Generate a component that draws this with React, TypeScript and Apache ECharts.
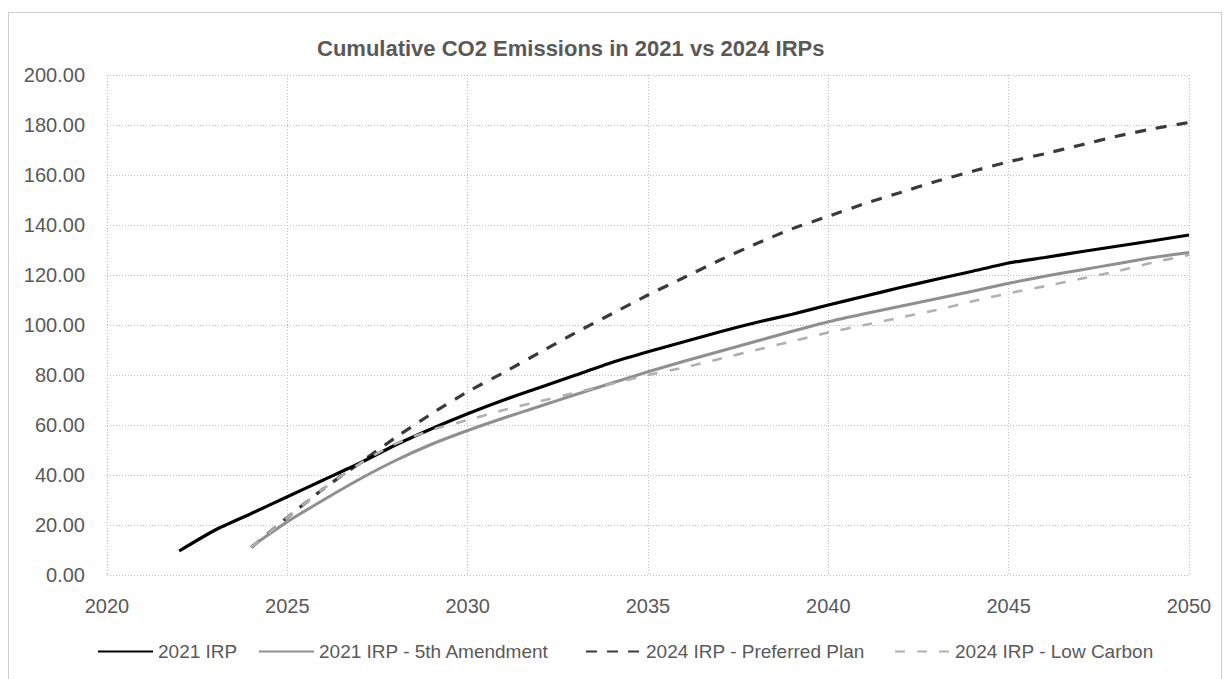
import React, { useEffect, useRef } from "react";
import * as echarts from "echarts";

// Cumulative CO2 emissions by plan (million tons), one value per year
const irp2021Years = [2022, 2023, 2024, 2025, 2026, 2027, 2028, 2029, 2030, 2031, 2032, 2033, 2034, 2035, 2036, 2037, 2038, 2039, 2040, 2041, 2042, 2043, 2044, 2045, 2046, 2047, 2048, 2049, 2050];
const irp2021 = [9.6, 18, 24.6, 31.3, 38, 44.7, 52, 58.5, 64.5, 70, 75, 80, 85, 89.3, 93.3, 97.3, 101, 104.3, 108, 111.5, 115, 118.3, 121.5, 124.8, 127, 129.3, 131.5, 133.7, 136];

const laterYears = [2024, 2025, 2026, 2027, 2028, 2029, 2030, 2031, 2032, 2033, 2034, 2035, 2036, 2037, 2038, 2039, 2040, 2041, 2042, 2043, 2044, 2045, 2046, 2047, 2048, 2049, 2050];
const irp2021Amend5 = [11.3, 21.3, 30, 38.3, 45.8, 52.3, 57.8, 62.8, 67.5, 72.2, 76.8, 81.3, 85.5, 89.5, 93.5, 97.5, 101.3, 104.5, 107.5, 110.5, 113.5, 116.7, 119.5, 122, 124.5, 127, 129];
const irp2024Preferred = [11, 23, 34.5, 44.7, 55, 64.5, 73.3, 81, 89, 97, 104.5, 112, 119, 126, 132.5, 138.5, 143.5, 148.5, 153, 157.5, 161.5, 165.3, 168.5, 172, 175.5, 178.5, 181];
const irp2024LowCarbon = [11, 23, 34.5, 44.5, 52.5, 58, 62, 66, 69.5, 73, 76.5, 80, 83, 86.5, 90, 93.5, 97, 100, 103, 106, 109.5, 112.7, 115.5, 118.5, 121.5, 125, 128];

const seriesNames = [
  "2021 IRP",
  "2021 IRP - 5th Amendment",
  "2024 IRP - Preferred Plan",
  "2024 IRP - Low Carbon",
];

const xTicks = { min: 2020, max: 2050, interval: 5 };
const yTicks = { min: 0, max: 200, interval: 20 };

const pair = (xs: number[], ys: number[]) => xs.map((x, i) => [x, ys[i]]);

const textColor = "#595959";
const font = "'Liberation Sans', Arial, sans-serif";

export default function App() {
  const ref = useRef<HTMLDivElement>(null);

  useEffect(() => {
    if (!ref.current) return;
    const chart = echarts.init(ref.current, null, { renderer: "svg" });

    const gridLine = { lineStyle: { color: "#bdbdbd", width: 1, type: [1, 2] as any } };

    // one legend per series so each entry sits at its own x position
    const legendAt = (left: number, name: string) => ({
      left,
      top: 642,
      padding: 0,
      itemWidth: 55,
      itemHeight: 14,
      itemGap: 5,
      itemStyle: { opacity: 0 },
      data: [name],
      textStyle: { color: textColor, fontSize: 19, fontFamily: font },
    });

    chart.setOption({
      animation: false,
      backgroundColor: "#ffffff",
      title: {
        text: "Cumulative CO2 Emissions in 2021 vs 2024 IRPs",
        left: 312,
        top: 32,
        textStyle: { color: textColor, fontSize: 22, fontWeight: "bold", fontFamily: font },
      },
      graphic: [
        {
          type: "rect",
          shape: { x: 8.5, y: 12.5, width: 1213, height: 720 },
          style: { fill: "none", stroke: "#9a9a9a", lineWidth: 1, lineDash: [1, 1] },
          silent: true,
        },
      ],
      legend: [
        legendAt(97, seriesNames[0]),
        legendAt(258, seriesNames[1]),
        legendAt(585, seriesNames[2]),
        legendAt(894, seriesNames[3]),
      ],
      grid: { left: 107, right: 36, top: 75, bottom: 104 },
      xAxis: {
        type: "value",
        min: xTicks.min,
        max: xTicks.max,
        interval: xTicks.interval,
        axisLine: { show: false },
        axisTick: { show: false },
        splitLine: { show: true, ...gridLine },
        axisLabel: {
          color: textColor,
          fontSize: 20,
          fontFamily: font,
          margin: 21,
          formatter: (v: number) => String(v),
        },
      },
      yAxis: {
        type: "value",
        min: yTicks.min,
        max: yTicks.max,
        interval: yTicks.interval,
        axisLine: { show: false },
        axisTick: { show: false },
        splitLine: { show: true, ...gridLine },
        axisLabel: {
          color: textColor,
          fontSize: 20,
          fontFamily: font,
          margin: 22,
          formatter: (v: number) => v.toFixed(2),
        },
      },
      series: [
        {
          name: seriesNames[0],
          type: "line",
          data: pair(irp2021Years, irp2021),
          symbol: "none",
          smooth: 0.2,
          z: 4,
          lineStyle: { color: "#000000", width: 3.2 },
          itemStyle: { color: "#000000" },
        },
        {
          name: seriesNames[1],
          type: "line",
          data: pair(laterYears, irp2021Amend5),
          symbol: "none",
          smooth: 0.2,
          z: 3,
          lineStyle: { color: "#8f8f8f", width: 3 },
          itemStyle: { color: "#8f8f8f" },
        },
        {
          name: seriesNames[2],
          type: "line",
          data: pair(laterYears, irp2024Preferred),
          symbol: "none",
          smooth: 0.2,
          z: 2,
          lineStyle: { color: "#3a3a3a", width: 3.2, type: [11, 10] as any },
          itemStyle: { color: "#3a3a3a" },
        },
        {
          name: seriesNames[3],
          type: "line",
          data: pair(laterYears, irp2024LowCarbon),
          symbol: "none",
          smooth: 0.2,
          z: 5,
          lineStyle: { color: "#b0b0b0", width: 2.6, type: [10, 12] as any },
          itemStyle: { color: "#b0b0b0" },
        },
      ],
    });

    return () => chart.dispose();
  }, []);

  return (
    <div
      ref={ref}
      style={{ position: "absolute", left: 0, top: 0, width: 1225, height: 679 }}
    />
  );
}
